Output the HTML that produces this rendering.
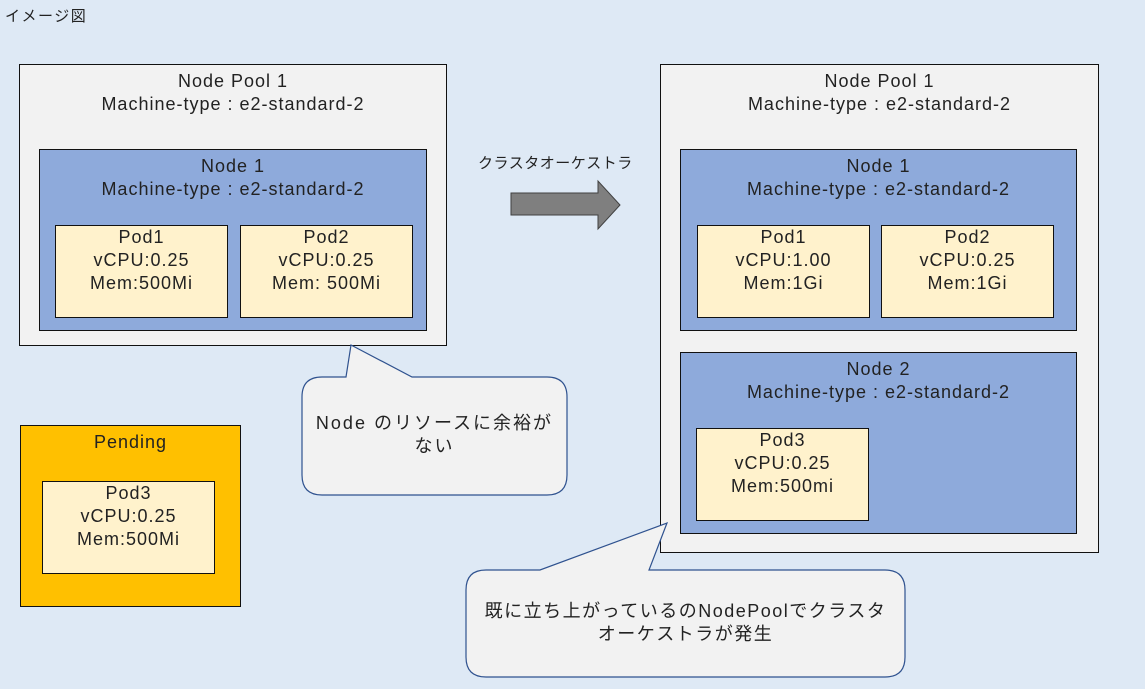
<!DOCTYPE html>
<html><head><meta charset="utf-8"><style>
body{margin:0;width:1145px;height:689px;background:#dee9f5;position:relative;overflow:hidden;font-family:"Liberation Sans","Noto Sans CJK JP",sans-serif;color:#222}
.b{position:absolute;box-sizing:border-box;border:1px solid #111;text-align:center;font-size:18px;line-height:23px;letter-spacing:1px}
.pool{background:#f2f2f2}
.node{background:#8eaadb}
.pod{background:#fff2cc}
.t{position:absolute;font-size:15px;letter-spacing:1.5px}
svg{position:absolute;left:0;top:0}
.c{position:absolute;text-align:center;font-size:18px;line-height:23px;letter-spacing:2px}
</style></head><body>
<div class="t" style="left:5px;top:5px">イメージ図</div>
<div class="b pool" style="left:19px;top:64px;width:428px;height:282px;padding-top:5px">Node Pool 1<br>Machine-type : e2-standard-2</div>
<div class="b node" style="left:39px;top:149px;width:388px;height:182px;padding-top:5px">Node 1<br>Machine-type : e2-standard-2</div>
<div class="b pod" style="left:55px;top:225px;width:173px;height:93px">Pod1<br>vCPU:0.25<br>Mem:500Mi</div>
<div class="b pod" style="left:240px;top:225px;width:173px;height:93px">Pod2<br>vCPU:0.25<br>Mem: 500Mi</div>

<div class="b" style="left:20px;top:425px;width:221px;height:182px;background:#ffc000;padding-top:5px">Pending</div>
<div class="b pod" style="left:42px;top:481px;width:173px;height:93px">Pod3<br>vCPU:0.25<br>Mem:500Mi</div>

<div class="b pool" style="left:660px;top:64px;width:439px;height:489px;padding-top:5px">Node Pool 1<br>Machine-type : e2-standard-2</div>
<div class="b node" style="left:680px;top:149px;width:397px;height:182px;padding-top:5px">Node 1<br>Machine-type : e2-standard-2</div>
<div class="b pod" style="left:697px;top:225px;width:173px;height:93px">Pod1<br>vCPU:1.00<br>Mem:1Gi</div>
<div class="b pod" style="left:881px;top:225px;width:173px;height:93px">Pod2<br>vCPU:0.25<br>Mem:1Gi</div>
<div class="b node" style="left:680px;top:352px;width:397px;height:182px;padding-top:5px">Node 2<br>Machine-type : e2-standard-2</div>
<div class="b pod" style="left:696px;top:428px;width:173px;height:93px">Pod3<br>vCPU:0.25<br>Mem:500mi</div>

<div class="t" style="left:478px;top:152px;letter-spacing:0.5px">クラスタオーケストラ</div>

<svg width="1145" height="689">
<polygon points="511,193 598,193 598,181 620,205 598,229 598,215 511,215" fill="#7f7f7f" stroke="#404040" stroke-width="1"/>
<path d="M322,377 L346,377 L351,345 L412,377 L547,377 Q567,377 567,397 L567,475 Q567,495 547,495 L322,495 Q302,495 302,475 L302,397 Q302,377 322,377 Z" fill="#f2f2f2" stroke="#2f528f" stroke-width="1.2"/>
<path d="M486,570 L540,570 L667,523 L649,570 L885,570 Q905,570 905,590 L905,657 Q905,677 885,677 L486,677 Q466,677 466,657 L466,590 Q466,570 486,570 Z" fill="#f2f2f2" stroke="#2f528f" stroke-width="1.2"/>
</svg>
<div class="c" style="left:302px;top:412px;width:265px">Node のリソースに余裕が<br>ない</div>
<div class="c" style="left:466px;top:600px;width:439px;letter-spacing:1.5px">既に立ち上がっているのNodePoolでクラスタ<br>オーケストラが発生</div>
</body></html>
